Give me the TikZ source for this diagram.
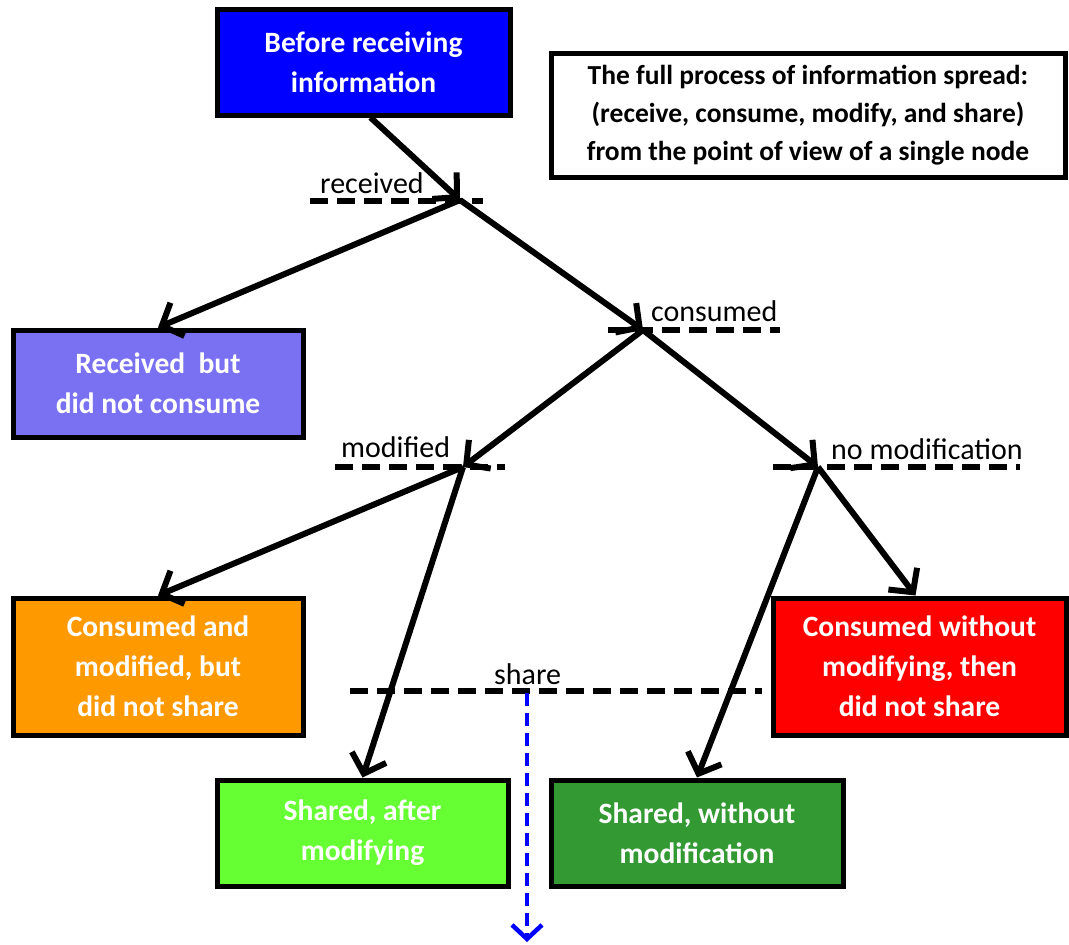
\documentclass[tikz,border=0pt]{standalone}
\usepackage{fontspec}
\setmainfont{Carlito}
\usetikzlibrary{arrows.meta}
\definecolor{cTop}{RGB}{0,0,255}
\definecolor{cRecv}{RGB}{122,112,242}
\definecolor{cOrange}{RGB}{255,153,0}
\definecolor{cRed}{RGB}{255,0,0}
\definecolor{cLight}{RGB}{102,255,51}
\definecolor{cDark}{RGB}{51,153,51}
\definecolor{cShare}{RGB}{0,0,255}
\begin{document}
\begin{tikzpicture}[x=1pt,y=-1pt,
  box/.style={draw=black, line width=5pt, align=center, text=white, inner sep=0pt,
    font=\fontsize{29.5}{40}\selectfont\bfseries},
  infobox/.style={draw=black, line width=5pt, align=center, fill=white, inner sep=0pt,
    font=\fontsize{27.5}{38}\selectfont\bfseries},
  arr/.style={line width=6pt, -{Straight Barb[length=17pt,width=36pt,line width=6pt]}},
  marker/.style={line width=6pt, dash pattern=on 18pt off 9pt},
  lab/.style={anchor=base west, inner sep=0pt, font=\fontsize{30}{34}\selectfont},
  sharearr/.style={draw=cShare, line width=4.5pt, dash pattern=on 13pt off 7pt,
    -{Straight Barb[length=14pt,width=30pt,line width=4.5pt]}}
]
\useasboundingbox (0,0) rectangle (1069,945);

% boxes
\node[box, fill=cTop, minimum width=293pt, minimum height=106pt] (top) at (363.5,62) {Before receiving\\information};
\node[infobox, minimum width=514pt, minimum height=124pt] (info) at (808,115) {The full process of information spread:\\(receive, consume, modify, and share)\\from the point of view of a single node};
\node[box, fill=cRecv, minimum width=290pt, minimum height=107pt] (recv) at (158,383.5) {Received~ but\\did not consume};
\node[box, fill=cOrange, minimum width=290pt, minimum height=137pt] (orange) at (158,666.5) {Consumed and\\modified, but\\did not share};
\node[box, fill=cRed, minimum width=293pt, minimum height=137pt] (red) at (919.5,666.5) {Consumed without\\modifying, then\\did not share};
\node[box, fill=cLight, minimum width=291pt, minimum height=106pt] (light) at (362.5,833) {Shared, after\\modifying};
\node[box, fill=cDark, minimum width=292pt, minimum height=106pt] (dark) at (697,833) {Shared, without\\modification};

% junction points
\coordinate (r) at (460,200);
\coordinate (c) at (643,330);
\coordinate (m) at (463,467);
\coordinate (n) at (818,467);
\coordinate (s) at (527,693);
\coordinate (send) at (527,942);

% dashed markers
\coordinate (rL) at (310,201); \coordinate (rR) at (483,201);
\coordinate (cL) at (608,330); \coordinate (cR) at (780,330);
\coordinate (mL) at (335,467); \coordinate (mR) at (505,467);
\coordinate (nL) at (773,467); \coordinate (nR) at (1020,467);
\coordinate (sL) at (350,691); \coordinate (sR) at (762,691);
\draw[marker] (rL) -- (rR);
\draw[marker] (cL) -- (cR);
\draw[marker] (mL) -- (mR);
\draw[marker] (nL) -- (nR);
\draw[marker] (sL) -- (sR);

% labels
\node[lab] (lr) at (320,193) {received};
\node[lab] (lc) at (651,321) {consumed};
\node[lab] (lm) at (341,457) {modified};
\node[lab] (ln) at (831,459) {no modification};
\node[lab] (ls) at (494,684) {share};

% connectors
\draw[arr] ([xshift=7pt]top.south) -- (r);
\draw[arr] (r) -- (recv.north);
\draw[arr] (r) -- (c);
\draw[arr] (c) -- (m);
\draw[arr] (c) -- (n);
\draw[arr] (m) -- (orange.north);
\draw[arr] (m) -- (light.north);
\draw[arr] (n) -- ([xshift=-4pt]red.north);
\draw[arr] (n) -- (dark.north);
\draw[sharearr] (s) -- (send);
\end{tikzpicture}
\end{document}
